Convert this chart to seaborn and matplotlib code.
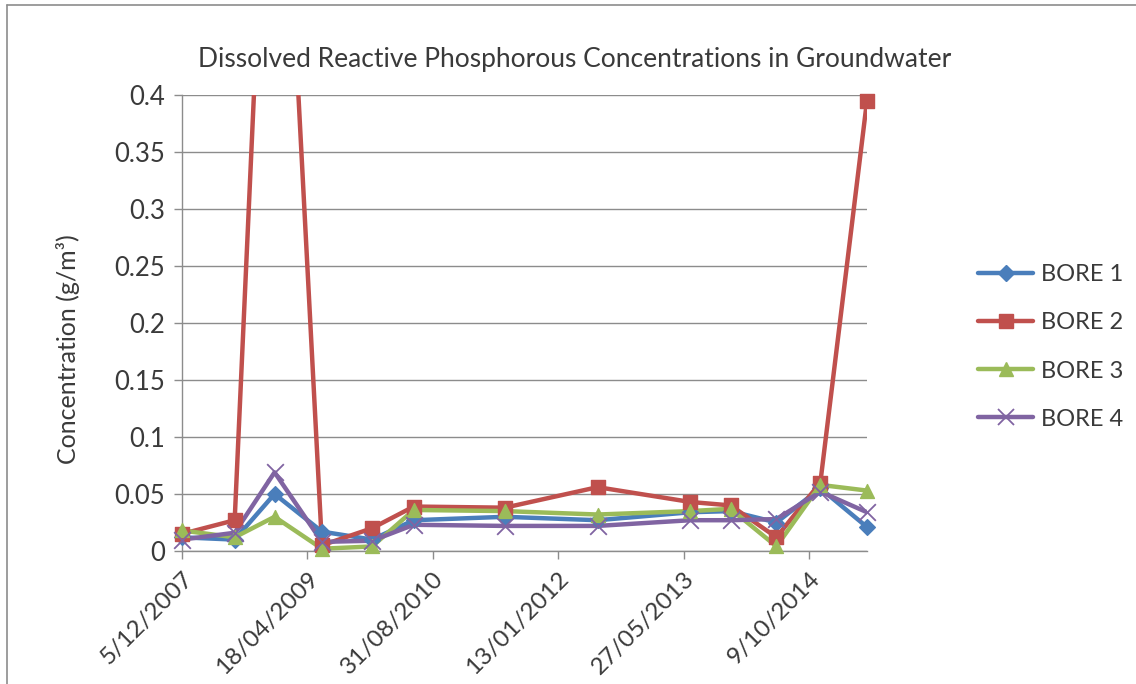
import datetime as dt

import matplotlib
matplotlib.use("Agg")
import matplotlib.pyplot as plt
from matplotlib.lines import Line2D
import pandas as pd
import seaborn as sns

# Sampling dates (groundwater monitoring rounds)
sample_dates = [
    "2007-12-05", "2008-07-02", "2008-12-08", "2009-06-15", "2010-01-01",
    "2010-06-16", "2011-06-14", "2012-06-18", "2013-06-23", "2013-11-30",
    "2014-06-01", "2014-11-23", "2015-05-28",
]

# Dissolved reactive phosphorous (g/m3) per bore
bore1 = [0.012, 0.010, 0.050, 0.017, 0.010, 0.027, 0.030, 0.027, 0.034, 0.035, 0.025, 0.055, 0.021]
bore2 = [0.015, 0.027, 0.800, 0.005, 0.020, 0.039, 0.038, 0.056, 0.043, 0.040, 0.012, 0.060, 0.395]
bore3 = [0.018, 0.012, 0.030, 0.002, 0.004, 0.036, 0.035, 0.032, 0.035, 0.037, 0.004, 0.058, 0.053]
bore4 = [0.010, 0.016, 0.069, 0.008, 0.009, 0.023, 0.022, 0.022, 0.027, 0.027, 0.028, 0.052, 0.034]

series_names = ["BORE 1", "BORE 2", "BORE 3", "BORE 4"]
series_values = [bore1, bore2, bore3, bore4]
series_colors = ["#4A7EBB", "#C0504D", "#9BBB59", "#8064A2"]
series_markers = ["D", "s", "^", "x"]
series_msize = [8, 10, 10, 12]

y_ticks = [0, 0.05, 0.1, 0.15, 0.2, 0.25, 0.3, 0.35, 0.4]
y_tick_labels = ["0", "0.05", "0.1", "0.15", "0.2", "0.25", "0.3", "0.35", "0.4"]

title_text = "Dissolved Reactive Phosphorous Concentrations in Groundwater"
y_label = "Concentration (g/m³)"

TEXT = "#3a3a3a"
AXIS = "#8c8c8c"
Y_MAX = 0.4

sns.set_theme(style="white")
plt.rcParams["font.family"] = ["Lato", "DejaVu Sans"]

dates = pd.to_datetime(sample_dates)
frames = []
for name, vals in zip(series_names, series_values):
    frames.append(pd.DataFrame({"date": dates, "value": vals, "bore": name}))
df = pd.concat(frames, ignore_index=True)

fig = plt.figure(figsize=(11.36, 6.84), dpi=100)
ax = fig.add_axes([182 / 1136, 1 - 551 / 684, (867 - 182) / 1136, (551 - 95) / 684])

for name, color, marker, ms in zip(series_names, series_colors, series_markers, series_msize):
    sub = df[df["bore"] == name]
    # connecting line, clipped to the plot area
    sns.lineplot(data=sub, x="date", y="value", ax=ax, color=color, linewidth=3.2,
                 legend=False, zorder=3)
    # markers for in-range samples, allowed to overhang the axes edges
    shown = sub[sub["value"] <= Y_MAX]
    if marker == "x":
        sns.scatterplot(data=shown, x="date", y="value", ax=ax, color=color, marker="x",
                        s=ms ** 2, linewidth=1.3, legend=False, zorder=4, clip_on=False)
    else:
        sns.scatterplot(data=shown, x="date", y="value", ax=ax, color=color, marker=marker,
                        s=ms ** 2, edgecolor=color, linewidth=1, legend=False, zorder=4,
                        clip_on=False)

# Axis ranges and ticks
ax.set_ylim(0, Y_MAX)
ax.set_xlim(dates[0], dates[-1])
ax.set_yticks(y_ticks)
ax.set_yticklabels(y_tick_labels, fontsize=18.5, color=TEXT)

start = dates[0].to_pydatetime()
x_tick_dates = []
d = start
while d <= dates[-1].to_pydatetime():
    x_tick_dates.append(d)
    d = d + dt.timedelta(days=500)
ax.set_xticks(x_tick_dates)
ax.set_xticklabels([f"{t.day}/{t.month:02d}/{t.year}" for t in x_tick_dates],
                   rotation=45, ha="right", rotation_mode="anchor", fontsize=17.5, color=TEXT)

ax.tick_params(axis="both", which="major", direction="out", length=6, width=1,
               color=AXIS, bottom=True, left=True, pad=6)
ax.set_xlabel("")
ax.set_ylabel("")
fig.text(68 / 1136, 1 - 349 / 684, y_label, rotation=90, ha="center", va="center",
         fontsize=18, color=TEXT)

ax.grid(axis="y", color=AXIS, linewidth=1)
ax.grid(axis="x", visible=False)
ax.set_axisbelow(True)
for side in ["top", "right"]:
    ax.spines[side].set_visible(False)
for side in ["left", "bottom"]:
    ax.spines[side].set_color(AXIS)
    ax.spines[side].set_linewidth(1)

fig.text(575 / 1136, 1 - 60 / 684, title_text, ha="center", va="center", fontsize=19, color=TEXT)

# Legend at the right of the plot area
handles = []
for name, color, marker, ms in zip(series_names, series_colors, series_markers, series_msize):
    handles.append(Line2D([], [], color=color, linewidth=3.2, marker=marker, markersize=ms,
                          markeredgecolor=color, markeredgewidth=1.3 if marker == "x" else 1))
fig.legend(handles, series_names, loc="center left", bbox_to_anchor=(978 / 1136, 1 - 347 / 684),
           frameon=False, fontsize=17, handlelength=2.35, handletextpad=0.3, labelspacing=1.15,
           borderpad=0, borderaxespad=0, labelcolor=TEXT)

# Outer chart frame
fig.add_artist(Line2D([7 / 1136, 7 / 1136], [0, 1 - 5 / 684], transform=fig.transFigure,
                      color=AXIS, linewidth=1.2))
fig.add_artist(Line2D([7 / 1136, 1], [1 - 5 / 684, 1 - 5 / 684], transform=fig.transFigure,
                      color=AXIS, linewidth=1.2))

fig.savefig("out.png", dpi=100, facecolor="white")
